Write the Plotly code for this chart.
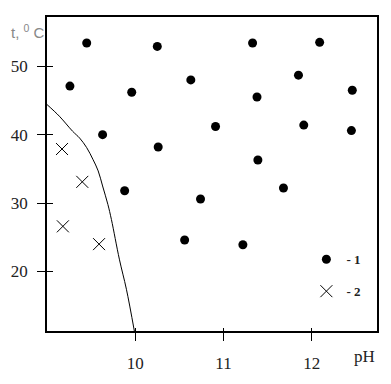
import plotly.graph_objects as go

# Series 1 (dots): pH, t
ph_1 = [9.45, 10.25, 11.33, 12.09, 9.26, 9.96, 10.63, 11.85, 12.46, 11.38,
        9.63, 10.91, 11.91, 12.45, 10.26, 11.39, 9.88, 11.68, 10.74, 10.56, 11.22]
t_1 = [53.4, 52.9, 53.4, 53.5, 47.1, 46.2, 48.0, 48.7, 46.5, 45.5,
       40.0, 41.2, 41.4, 40.6, 38.2, 36.3, 31.8, 32.2, 30.6, 24.6, 23.9]

# Series 2 (crosses)
ph_2 = [9.17, 9.40, 9.18, 9.59]
t_2 = [37.9, 33.1, 26.6, 24.0]

# Boundary curve
ph_curve = [9.0, 9.14, 9.29, 9.37, 9.45, 9.52, 9.58, 9.63, 9.69, 9.73, 9.82, 9.90, 9.99]
t_curve = [44.4, 42.7, 40.5, 39.5, 38.1, 36.4, 34.7, 32.5, 29.8, 27.6, 21.8, 17.4, 11.3]

x_ticks = [10, 11, 12]
y_ticks = [20, 30, 40, 50]
x_range = [9.0, 12.74]
y_range = [11.3, 57.2]

serif = "'Liberation Serif', 'Times New Roman', Times, serif"

fig = go.Figure()
fig.add_trace(go.Scatter(x=ph_curve, y=t_curve, mode="lines",
                         line=dict(color="black", width=1, shape="spline", smoothing=1.0),
                         showlegend=False, hoverinfo="skip"))
fig.add_trace(go.Scatter(x=ph_1, y=t_1, mode="markers", name="<b>- 1</b>",
                         legendgroup="g1",
                         marker=dict(symbol="circle", size=9, color="black")))
fig.add_trace(go.Scatter(x=ph_2, y=t_2, mode="markers", name="<b>- 2</b>",
                         legendgroup="g2",
                         marker=dict(symbol="x-thin", size=12,
                                     line=dict(color="black", width=1), color="black")))
# overlay axes for inner tick parts
fig.add_trace(go.Scatter(x=[None], y=[None], xaxis="x2", yaxis="y2",
                         showlegend=False, hoverinfo="skip"))

fig.update_layout(
    width=391, height=384,
    margin=dict(l=47, r=14, t=17, b=53),
    paper_bgcolor="white", plot_bgcolor="white",
    font=dict(family=serif, size=16, color="#222"),
    xaxis=dict(range=x_range, tickvals=x_ticks, showgrid=False, zeroline=False,
               showline=True, linecolor="black", linewidth=1.5, mirror=True,
               ticks="outside", ticklen=8, tickwidth=1.2, tickcolor="black",
               ticklabelstandoff=8, tickfont=dict(family=serif, size=17, color="#222")),
    yaxis=dict(range=y_range, tickvals=y_ticks, showgrid=False, zeroline=False,
               showline=True, linecolor="black", linewidth=1.5, mirror=True,
               ticks="outside", ticklen=8, tickwidth=1.2, tickcolor="black",
               ticklabelstandoff=6, tickfont=dict(family=serif, size=17, color="#222")),
    xaxis2=dict(range=x_range, tickvals=x_ticks, overlaying="x", showgrid=False,
                zeroline=False, showticklabels=False, ticks="inside", ticklen=3,
                tickwidth=1.2, tickcolor="black", side="bottom"),
    yaxis2=dict(range=y_range, tickvals=y_ticks, overlaying="y", showgrid=False,
                zeroline=False, showticklabels=False, ticks="inside", ticklen=6,
                tickwidth=1.2, tickcolor="black", side="left"),
    legend=dict(x=0.786, y=0.276, xanchor="left", yanchor="top",
                bgcolor="rgba(0,0,0,0)", traceorder="grouped", tracegroupgap=12,
                itemwidth=30, font=dict(family=serif, size=13, color="#222")),
    annotations=[
        dict(text="pH", xref="paper", yref="paper", x=1.0, y=-0.045,
             xanchor="right", yanchor="top", showarrow=False,
             font=dict(family=serif, size=17, color="#222")),
        dict(text="t, <sup>0</sup> C", xref="paper", yref="paper", x=-0.115, y=0.955,
             xanchor="left", yanchor="middle", showarrow=False,
             font=dict(family="'Liberation Sans', Arial, sans-serif", size=15, color="#888")),
    ],
)

fig.write_html("out.html")
